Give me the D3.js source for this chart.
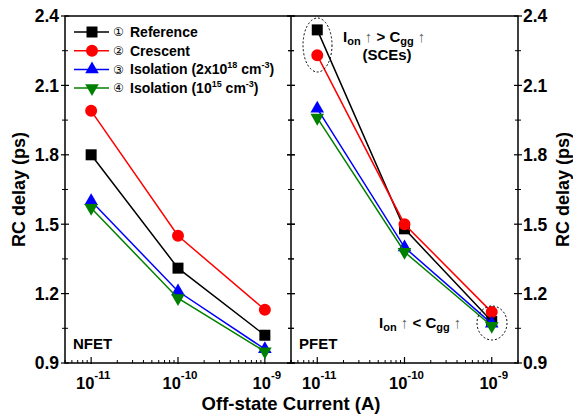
<!DOCTYPE html>
<html>
<head>
<meta charset="utf-8">
<script src="https://cdn.jsdelivr.net/npm/d3@7"></script>
<style>
  body { margin: 0; background: #fff; }
  svg { display: block; }
</style>
</head>
<body>
<svg id="chart" width="573" height="415"></svg>
<script>
// data
const currents = [1e-11, 1e-10, 1e-9];
const nfetReference = [1.80, 1.31, 1.02];
const nfetCrescent = [1.99, 1.45, 1.13];
const nfetIso2e18 = [1.60, 1.21, 0.96];
const nfetIso1e15 = [1.57, 1.18, 0.95];
const pfetReference = [2.34, 1.48, 1.08];
const pfetCrescent = [2.23, 1.50, 1.12];
const pfetIso2e18 = [2.00, 1.40, 1.07];
const pfetIso1e15 = [1.96, 1.38, 1.06];

const xMajorTicks = [1e-11, 1e-10, 1e-9];
const xTickExponents = ['-11', '-10', '-9'];
const yMajorTicks = [0.9, 1.2, 1.5, 1.8, 2.1, 2.4];
const yTickLabels = ['0.9', '1.2', '1.5', '1.8', '2.1', '2.4'];

const seriesNumbers = ['\u2460', '\u2461', '\u2462', '\u2463'];
const seriesLabels = [
    [{ t: 'Reference' }],
    [{ t: 'Crescent' }],
    [{ t: 'Isolation (2x10' }, { t: '18', sup: true }, { t: ' cm' }, { t: '-3', sup: true }, { t: ')' }],
    [{ t: 'Isolation (10' }, { t: '15', sup: true }, { t: ' cm' }, { t: '-3', sup: true }, { t: ')' }]
];
const seriesColors = ['#000000', '#ff0000', '#0000ff', '#008000'];
const seriesSymbols = ['square', 'circle', 'up', 'down'];

const panels = [
    { label: 'NFET', x0: 65, x1: 291, series: [nfetReference, nfetCrescent, nfetIso2e18, nfetIso1e15] },
    { label: 'PFET', x0: 291, x1: 518, series: [pfetReference, pfetCrescent, pfetIso2e18, pfetIso1e15] }
];

const FONT = "'Liberation Sans', Arial, sans-serif";
const plotTop = 16, plotBottom = 363;

const svg = d3.select('#chart');
const y = d3.scaleLinear().domain([0.9, 2.4]).range([plotBottom, plotTop]);

function markerPath(kind) {
    if (kind === 'square') return d3.symbol(d3.symbolSquare, 121)();
    if (kind === 'circle') return d3.symbol(d3.symbolCircle, 113)();
    return d3.symbol(d3.symbolTriangle, 80)();
}

function drawMarker(g, kind, cx, cy, color) {
    g.append('path')
        .attr('d', markerPath(kind))
        .attr('transform', `translate(${cx},${cy})` + (kind === 'down' ? ' rotate(180)' : ''))
        .attr('fill', color);
}

// plot frame per panel
panels.forEach(p => {
    const x = d3.scaleLog().domain([5e-12, 2e-9]).range([p.x0, p.x1]);
    const g = svg.append('g');

    // minor x ticks (inside)
    const minor = x.ticks().filter(v => !xMajorTicks.some(m => Math.abs(m - v) / m < 1e-6));
    g.selectAll(null).data(minor).enter().append('line')
        .attr('x1', d => x(d)).attr('x2', d => x(d))
        .attr('y1', plotBottom).attr('y2', plotBottom - 3)
        .attr('stroke', '#000').attr('stroke-width', 1);
    g.selectAll(null).data(xMajorTicks).enter().append('line')
        .attr('x1', d => x(d)).attr('x2', d => x(d))
        .attr('y1', plotBottom + 1).attr('y2', plotBottom - 6)
        .attr('stroke', '#000').attr('stroke-width', 1.2);

    // x tick labels
    const xl = g.selectAll(null).data(xMajorTicks).enter().append('text')
        .attr('x', d => x(d) + 2).attr('y', 389)
        .attr('text-anchor', 'middle')
        .style('font-family', FONT).style('font-weight', 'bold').style('font-size', '16.5px');
    xl.append('tspan').text('10');
    xl.append('tspan').attr('dy', -10).style('font-size', '11.5px').text((d, i) => xTickExponents[i]);

    // y ticks on both sides of the panel
    const yMinor = d3.range(1.05, 2.4, 0.3);
    [p.x0, p.x1].forEach(ax => {
        g.selectAll(null).data(yMajorTicks).enter().append('line')
            .attr('x1', ax - 4).attr('x2', ax + 4)
            .attr('y1', d => y(d)).attr('y2', d => y(d))
            .attr('stroke', '#000').attr('stroke-width', 1.2);
        g.selectAll(null).data(yMinor).enter().append('line')
            .attr('x1', ax - 3).attr('x2', ax + 3)
            .attr('y1', d => y(d)).attr('y2', d => y(d))
            .attr('stroke', '#000').attr('stroke-width', 1);
    });

    // series lines and markers
    p.series.forEach((vals, si) => {
        const pts = vals.map((v, i) => [x(currents[i]), y(v)]);
        g.append('path')
            .attr('d', d3.line()(pts))
            .attr('fill', 'none')
            .attr('stroke', seriesColors[si])
            .attr('stroke-width', 1.5);
        pts.forEach(pt => drawMarker(g, seriesSymbols[si], pt[0], pt[1], seriesColors[si]));
    });

    g.append('text')
        .attr('x', p.x0 + 8).attr('y', 349)
        .style('font-family', FONT).style('font-weight', 'bold').style('font-size', '15px')
        .text(p.label);
});

// frame lines
svg.append('rect')
    .attr('x', 65).attr('y', plotTop).attr('width', 518 - 65).attr('height', plotBottom - plotTop)
    .attr('fill', 'none').attr('stroke', '#000').attr('stroke-width', 1.5);
svg.append('line')
    .attr('x1', 291).attr('x2', 291).attr('y1', plotTop).attr('y2', plotBottom)
    .attr('stroke', '#000').attr('stroke-width', 1.5);

// y tick labels left and right
svg.selectAll(null).data(yMajorTicks).enter().append('text')
    .attr('x', 59).attr('y', d => y(d)).attr('dy', '0.36em')
    .attr('text-anchor', 'end')
    .style('font-family', FONT).style('font-weight', 'bold').style('font-size', '17.5px')
    .text((d, i) => yTickLabels[i]);
svg.selectAll(null).data(yMajorTicks).enter().append('text')
    .attr('x', 523).attr('y', d => y(d)).attr('dy', '0.36em')
    .style('font-family', FONT).style('font-weight', 'bold').style('font-size', '17.5px')
    .text((d, i) => yTickLabels[i]);

// axis titles
[19, 563].forEach(tx => {
    svg.append('text')
        .attr('transform', `translate(${tx},${(plotTop + plotBottom) / 2}) rotate(-90)`)
        .attr('text-anchor', 'middle').attr('dy', '0.36em')
        .style('font-family', FONT).style('font-weight', 'bold').style('font-size', '18px')
        .text('RC delay (ps)');
});
svg.append('text')
    .attr('x', 291).attr('y', 410).attr('text-anchor', 'middle')
    .style('font-family', FONT).style('font-weight', 'bold').style('font-size', '18.5px')
    .text('Off-state Current (A)');

// legend
const legend = svg.append('g');
seriesLabels.forEach((parts, i) => {
    const ly = 32 + i * 18.7;
    legend.append('line')
        .attr('x1', 74).attr('x2', 109).attr('y1', ly).attr('y2', ly)
        .attr('stroke', seriesColors[i]).attr('stroke-width', 1.5);
    drawMarker(legend, seriesSymbols[i], 92, ly, seriesColors[i]);
    legend.append('text')
        .attr('x', 113).attr('y', ly).attr('dy', '0.36em')
        .style('font-family', "'DejaVu Sans', sans-serif").style('font-size', '12px')
        .text(seriesNumbers[i]);
    const t = legend.append('text')
        .attr('x', 130).attr('y', ly + 5)
        .style('font-family', FONT).style('font-weight', 'bold').style('font-size', '14px');
    parts.forEach(pt => {
        if (pt.sup) {
            t.append('tspan').attr('dy', -6).style('font-size', '9px').text(pt.t);
        } else {
            const s = t.append('tspan').text(pt.t);
            if (t.selectAll('tspan').size() > 1) s.attr('dy', 6);
        }
    });
});

// annotations
function ionCgg(x0, yb, sign) {
    const t = svg.append('text').attr('x', x0).attr('y', yb)
        .style('font-family', FONT).style('font-weight', 'bold').style('font-size', '15px');
    t.append('tspan').text('I');
    t.append('tspan').attr('dy', 3).style('font-size', '11px').text('on');
    t.append('tspan').attr('dy', -3).style('font-weight', 'normal').style('fill', '#666').text(' \u2191 ');
    t.append('tspan').text(sign + ' C');
    t.append('tspan').attr('dy', 3).style('font-size', '11px').text('gg');
    t.append('tspan').attr('dy', -3).style('font-weight', 'normal').style('fill', '#666').text(' \u2191');
}
ionCgg(343, 42, '>');
svg.append('text').attr('x', 387).attr('y', 60).attr('text-anchor', 'middle')
    .style('font-family', FONT).style('font-weight', 'bold').style('font-size', '15px')
    .text('(SCEs)');
ionCgg(379, 328, '<');

svg.append('ellipse').attr('cx', 317.5).attr('cy', 45).attr('rx', 14.5).attr('ry', 27)
    .attr('fill', 'none').attr('stroke', '#000').attr('stroke-width', 1).attr('stroke-dasharray', '2,2');
svg.append('ellipse').attr('cx', 492).attr('cy', 323).attr('rx', 15).attr('ry', 17)
    .attr('fill', 'none').attr('stroke', '#000').attr('stroke-width', 1).attr('stroke-dasharray', '2,2');
</script>
</body>
</html>
